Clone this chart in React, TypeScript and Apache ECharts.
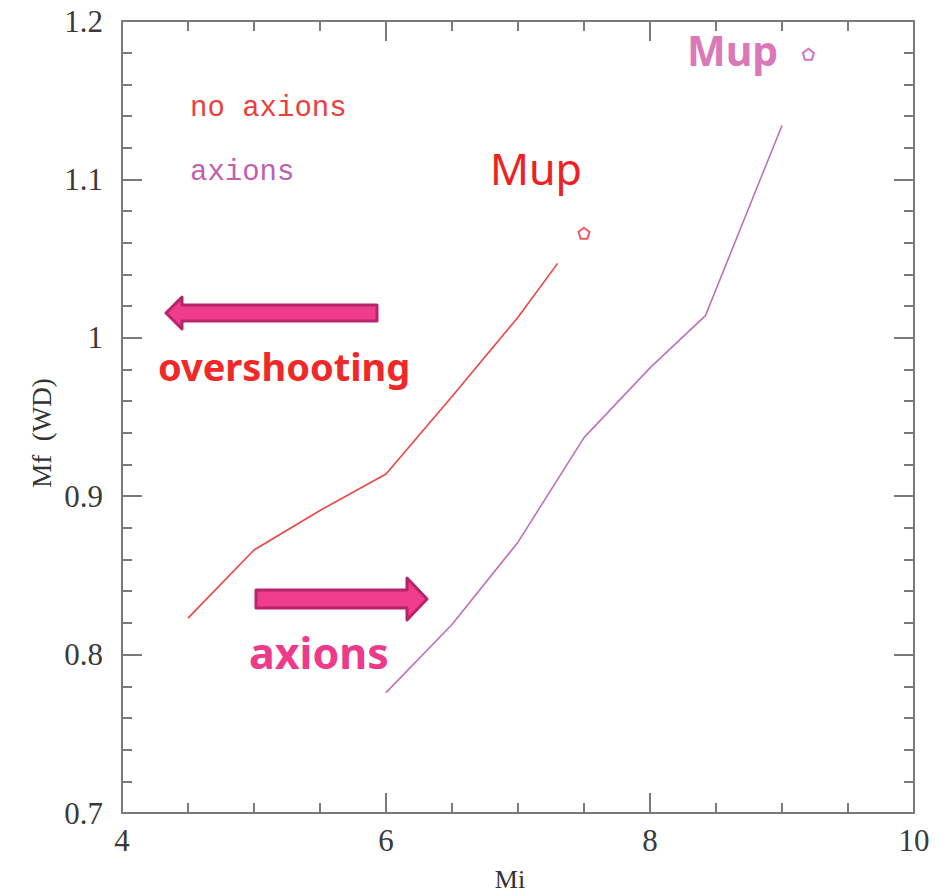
import React, { useEffect, useRef } from "react";
import * as echarts from "echarts";

const xTicks = [4, 6, 8, 10];
const yTicks = [0.7, 0.8, 0.9, 1.0, 1.1, 1.2];

const noAxionsMi = [4.5, 5.0, 5.5, 6.0, 6.5, 7.0, 7.3];
const noAxionsMf = [0.823, 0.866, 0.891, 0.914, 0.963, 1.013, 1.047];

const axionsMi = [6.0, 6.5, 7.0, 7.5, 8.0, 8.42, 9.0];
const axionsMf = [0.776, 0.819, 0.871, 0.937, 0.981, 1.014, 1.134];

const mupNoAxions = [7.5, 1.066];
const mupAxions = [9.2, 1.179];

const pentagon =
  "path://M0,-1 L0.951,-0.309 L0.588,0.809 L-0.588,0.809 L-0.951,-0.309 Z";

const axisColor = "#7a7a7a";

function makeAxis(extra: any) {
  return {
    type: "value",
    axisLine: { show: true, lineStyle: { color: axisColor, width: 2 } },
    axisTick: { show: true, inside: true, length: 20, lineStyle: { color: axisColor, width: 2 } },
    minorTick: { show: true, splitNumber: 4, length: 10, lineStyle: { color: axisColor, width: 2 } },
    splitLine: { show: false },
    ...extra,
  };
}

export default function App() {
  const ref = useRef<HTMLDivElement>(null);
  useEffect(() => {
    document.body.style.margin = "0";
    const chart = echarts.init(ref.current!, null, { renderer: "svg" });
    const labelStyle = {
      fontFamily: "Liberation Serif",
      fontSize: 31,
      color: "#3a3a3a",
    };
    const arrowFill = "#ef3d8c";
    const arrowStroke = "#b8236a";
    chart.setOption({
      animation: false,
      backgroundColor: "#ffffff",
      grid: { left: 122, top: 21, right: 29, bottom: 82, containLabel: false },
      xAxis: [
        makeAxis({
          min: xTicks[0],
          max: xTicks[xTicks.length - 1],
          interval: 2,
          position: "bottom",
          axisLabel: { ...labelStyle, margin: 12 },
        }),
        makeAxis({
          min: xTicks[0],
          max: xTicks[xTicks.length - 1],
          interval: 2,
          position: "top",
          axisLabel: { show: false },
        }),
      ],
      yAxis: [
        makeAxis({
          min: yTicks[0],
          max: yTicks[yTicks.length - 1],
          interval: 0.1,
          position: "left",
          minorTick: { show: true, splitNumber: 5, length: 10, lineStyle: { color: axisColor, width: 2 } },
          axisLabel: {
            ...labelStyle,
            margin: 19,
            formatter: (v: number) => String(Math.round(v * 10) / 10),
          },
        }),
        makeAxis({
          min: yTicks[0],
          max: yTicks[yTicks.length - 1],
          interval: 0.1,
          position: "right",
          minorTick: { show: true, splitNumber: 5, length: 10, lineStyle: { color: axisColor, width: 2 } },
          axisLabel: { show: false },
        }),
      ],
      series: [
        {
          name: "no axions",
          type: "line",
          data: noAxionsMi.map((x, i) => [x, noAxionsMf[i]]),
          showSymbol: false,
          lineStyle: { color: "#ee4444", width: 1.6 },
        },
        {
          name: "axions",
          type: "line",
          data: axionsMi.map((x, i) => [x, axionsMf[i]]),
          showSymbol: false,
          lineStyle: { color: "#c070b8", width: 1.6 },
        },
        {
          name: "Mup no axions",
          type: "scatter",
          data: [mupNoAxions],
          symbol: pentagon,
          symbolSize: 11,
          itemStyle: { color: "rgba(0,0,0,0)", borderColor: "#f03040", borderWidth: 2 },
        },
        {
          name: "Mup axions",
          type: "scatter",
          data: [mupAxions],
          symbol: pentagon,
          symbolSize: 11,
          itemStyle: { color: "rgba(0,0,0,0)", borderColor: "#c050b0", borderWidth: 2 },
        },
      ],
      graphic: [
        {
          type: "text",
          x: 510,
          y: 879,
          style: { text: "Mi", font: "26px 'Liberation Serif'", fill: "#333333", align: "center", verticalAlign: "middle" },
        },
        {
          type: "text",
          x: 42,
          y: 433,
          rotation: Math.PI / 2,
          style: { text: "Mf  (WD)", font: "27px 'Liberation Serif'", fill: "#333333", align: "center", verticalAlign: "middle" },
        },
        {
          type: "text",
          x: 190,
          y: 108,
          style: { text: "no axions", font: "29px 'Liberation Mono'", fill: "#f03c3c", align: "left", verticalAlign: "middle" },
        },
        {
          type: "text",
          x: 190,
          y: 172,
          style: { text: "axions", font: "29px 'Liberation Mono'", fill: "#c060b0", align: "left", verticalAlign: "middle" },
        },
        {
          type: "text",
          x: 490,
          y: 168,
          style: { text: "Mup", font: "43px 'Noto Sans'", fill: "#f02020", align: "left", verticalAlign: "middle" },
        },
        {
          type: "text",
          x: 687,
          y: 50,
          style: { text: "Mup", font: "bold 41px 'Noto Sans'", fill: "#dc78b8", align: "left", verticalAlign: "middle" },
        },
        {
          type: "text",
          x: 158,
          y: 366,
          style: { text: "overshooting", font: "bold 38px 'Noto Sans'", fill: "#f02828", align: "left", verticalAlign: "middle" },
        },
        {
          type: "text",
          x: 249,
          y: 652,
          style: { text: "axions", font: "bold 43px 'Noto Sans'", fill: "#ee3a8a", align: "left", verticalAlign: "middle" },
        },
        {
          type: "polygon",
          shape: {
            points: [
              [166, 313],
              [182, 297],
              [182, 305],
              [377, 305],
              [377, 321],
              [182, 321],
              [182, 329],
            ],
          },
          style: { fill: arrowFill, stroke: arrowStroke, lineWidth: 3, lineJoin: "round" },
        },
        {
          type: "polygon",
          shape: {
            points: [
              [256, 590],
              [407, 590],
              [407, 578],
              [427, 599],
              [407, 620],
              [407, 608],
              [256, 608],
            ],
          },
          style: { fill: arrowFill, stroke: arrowStroke, lineWidth: 3, lineJoin: "round" },
        },
      ],
    });
    return () => chart.dispose();
  }, []);
  return <div ref={ref} style={{ width: 943, height: 895 }} />;
}
